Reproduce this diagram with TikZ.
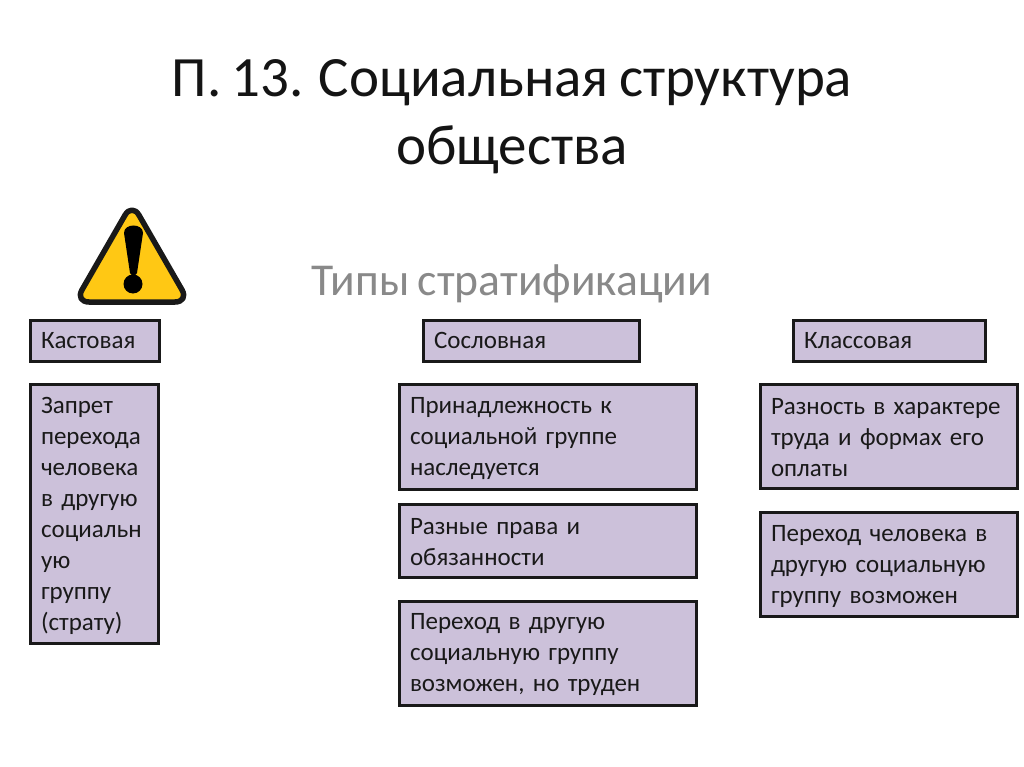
\documentclass[tikz,border=0pt]{standalone}
\usepackage{fontspec}
\setmainfont[WordSpace=0.8]{Carlito}
\definecolor{boxfill}{RGB}{204,193,218}
\definecolor{subgray}{RGB}{137,137,137}
\definecolor{titleink}{RGB}{20,20,20}
\definecolor{signyellow}{RGB}{255,200,20}
\tikzset{
  infobox/.style={draw=black!90,line width=3pt,fill=boxfill,anchor=north west,inner sep=0pt,outer sep=0pt,align=left,
    font=\fontsize{25}{31}\selectfont,text=black!90},
  titletext/.style={align=center,font=\fontsize{57}{68}\selectfont,text=titleink},
  subtext/.style={font=\fontsize{45.6}{50}\selectfont,text=subgray}
}
\newcommand{\bx}[6]{% name, x1,y1,x2,y2, text
  \node[infobox,minimum width=#4pt-#2pt-1pt,minimum height=#5pt-#3pt,text width=#4pt-#2pt-23pt] (#1) at (#2,#3) {#6\vspace{-4pt}};}
\begin{document}
\begin{tikzpicture}[x=1pt,y=-1pt]
\useasboundingbox (0,0) rectangle (1024,767);
\fill[white] (0,0) rectangle (1024,767);
\node[titletext] (title) at (512,117) {П. 13. Социальная структура\\общества};
\node[subtext] (sub) at (512,284) {Типы стратификации};
% warning sign
\filldraw[draw=black!90,fill=signyellow,line width=5.5pt,line join=round,rounded corners=14pt] (132,203) -- (189,302) -- (75,302) -- cycle;
\fill[black] (124,233) .. controls (124,223) and (143,223) .. (143,233) -- (137,273) .. controls (136,276) and (131,276) .. (130,273) -- cycle;
\fill[black] (133,284) circle (9.5);
% boxes
\bx{a}{30}{320}{160}{361}{Кастовая}
\bx{b}{423}{320}{640}{361}{Сословная}
\bx{c}{793}{320}{986}{361}{Классовая}
\bx{d}{30}{384}{159}{643}{Запрет\\перехода\\человека\\в другую\\социальн\\ую\\группу\\(страту)}
\bx{e}{399}{384}{697}{489}{Принадлежность к\\социальной группе\\наследуется}
\bx{f}{399}{504}{697}{577}{Разные права и\\обязанности}
\bx{g}{399}{601}{697}{705}{Переход в другую\\социальную группу\\возможен, но труден}
\bx{h}{760}{384}{1018}{488}{Разность в характере\\труда и формах его\\оплаты}
\bx{i}{760}{512}{1018}{616}{Переход человека в\\другую социальную\\группу возможен}
\end{tikzpicture}
\end{document}
